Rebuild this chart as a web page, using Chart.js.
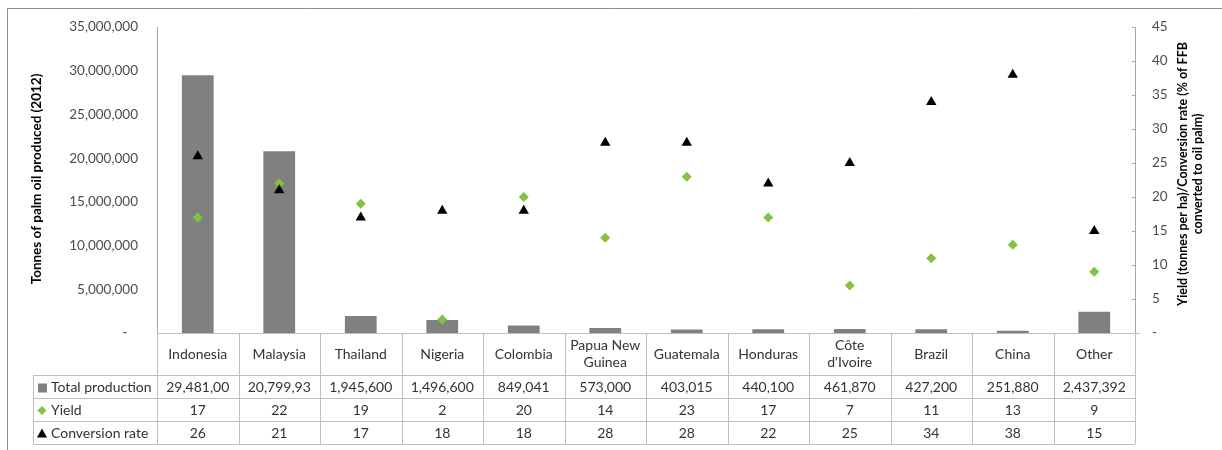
<!DOCTYPE html>
<html lang="en">
<head>
<meta charset="UTF-8">
<title>Palm oil production, yield and conversion rate (2012)</title>
<script src="https://cdn.jsdelivr.net/npm/chart.js"></script>
<style>
  html, body { margin: 0; padding: 0; background: #fff; }
  .wrap { position: relative; width: 1222px; height: 450px; }
</style>
</head>
<body>
<div class="wrap"><canvas id="palmChart"></canvas></div>
<script>
  // Country data, 2012
  const countries = ['Indonesia', 'Malaysia', 'Thailand', 'Nigeria', 'Colombia', ['Papua New', 'Guinea'],
    'Guatemala', 'Honduras', ['Côte', "d'Ivoire"], 'Brazil', 'China', 'Other'];
  const production = [29481000, 20799930, 1945600, 1496600, 849041, 573000, 403015, 440100, 461870, 427200, 251880, 2437392];
  const yieldVals = [17, 22, 19, 2, 20, 14, 23, 17, 7, 11, 13, 9];
  const conversion = [26, 21, 17, 18, 18, 28, 28, 22, 25, 34, 38, 15];

  const seriesNames = ['Total production', 'Yield', 'Conversion rate'];
  const leftTitle = 'Tonnes of palm oil produced (2012)';
  const rightTitle = ['Yield (tonnes per ha)/Conversion rate (% of FFB', 'converted to oil palm)'];

  const BAR = '#808080';
  const GREEN = '#80c341';
  const TRI = '#000000';
  const FONT = 'Lato, "Noto Sans", sans-serif';
  const TEXT = '#333333';

  const fmt = v => v === 0 ? '-   ' : v.toLocaleString('en-US');
  // the table cells are narrow, long numbers get cut off
  const cellText = v => { const s = v.toLocaleString('en-US'); return s.length > 9 ? s.slice(0, 9) : s; };

  // draws the frame, axis titles and the data table under the plot
  const tablePlugin = {
    id: 'dataTable',
    afterDraw(chart) {
      const { ctx, chartArea: a, scales } = chart;
      const x = scales.x, yR = scales.y1;
      const colW = a.width / countries.length;
      const rowTop = a.bottom, catBottom = a.bottom + 42, rowH = 23;
      const tableLeft = 33;
      const rows = [production, yieldVals, conversion];

      ctx.save();
      // outer frame (only left and top are in view)
      ctx.strokeStyle = '#8c8c8c';
      ctx.lineWidth = 1;
      ctx.beginPath();
      ctx.moveTo(7.5, 450); ctx.lineTo(7.5, 8.5); ctx.lineTo(1222, 8.5);
      ctx.stroke();

      // small tick marks on the right axis
      ctx.strokeStyle = '#a6a6a6';
      ctx.beginPath();
      yR.ticks.forEach(t => {
        const py = Math.round(yR.getPixelForValue(t.value)) + 0.5;
        ctx.moveTo(a.right - 3, py); ctx.lineTo(a.right, py);
      });
      ctx.stroke();

      // table grid
      ctx.strokeStyle = '#bfbfbf';
      ctx.beginPath();
      ctx.moveTo(a.left, rowTop + 0.5); ctx.lineTo(a.right + 5, rowTop + 0.5);
      for (let r = 0; r <= 3; r++) {
        const yy = catBottom + r * rowH + 0.5;
        ctx.moveTo(tableLeft, yy); ctx.lineTo(a.right, yy);
      }
      ctx.moveTo(tableLeft + 0.5, catBottom); ctx.lineTo(tableLeft + 0.5, catBottom + 3 * rowH);
      for (let i = 0; i <= countries.length; i++) {
        const xx = Math.round(a.left + i * colW) + 0.5;
        ctx.moveTo(xx, rowTop); ctx.lineTo(xx, catBottom + 3 * rowH);
      }
      ctx.stroke();

      // category names
      ctx.fillStyle = TEXT;
      ctx.font = '14px ' + FONT;
      ctx.textAlign = 'center';
      ctx.textBaseline = 'middle';
      countries.forEach((c, i) => {
        const cx = x.getPixelForValue(i);
        const lines = Array.isArray(c) ? c : [c];
        const mid = (rowTop + catBottom) / 2;
        lines.forEach((ln, k) => ctx.fillText(ln, cx, mid + (k - (lines.length - 1) / 2) * 17));
      });

      // values
      rows.forEach((vals, r) => {
        const cy = catBottom + r * rowH + rowH / 2 + 1;
        vals.forEach((v, i) => ctx.fillText(cellText(v), x.getPixelForValue(i), cy));
      });

      // legend keys and series names
      ctx.textAlign = 'left';
      seriesNames.forEach((name, r) => {
        const cy = catBottom + r * rowH + rowH / 2 + 1;
        const kx = tableLeft + 9;
        if (r === 0) {
          ctx.fillStyle = BAR;
          ctx.fillRect(kx - 4, cy - 4, 9, 9);
        } else if (r === 1) {
          ctx.fillStyle = GREEN;
          ctx.beginPath();
          ctx.moveTo(kx, cy - 4.5); ctx.lineTo(kx + 4.5, cy); ctx.lineTo(kx, cy + 4.5); ctx.lineTo(kx - 4.5, cy);
          ctx.closePath(); ctx.fill();
        } else {
          ctx.fillStyle = TRI;
          ctx.beginPath();
          ctx.moveTo(kx, cy - 5); ctx.lineTo(kx + 5, cy + 4); ctx.lineTo(kx - 5, cy + 4);
          ctx.closePath(); ctx.fill();
        }
        ctx.fillStyle = TEXT;
        ctx.fillText(name, tableLeft + 18, cy);
      });

      // axis titles
      ctx.fillStyle = '#000';
      ctx.font = 'bold 13.5px ' + FONT;
      ctx.textAlign = 'center';
      ctx.save();
      ctx.translate(37, 179);
      ctx.rotate(-Math.PI / 2);
      ctx.fillText(leftTitle, 0, 0);
      ctx.restore();

      ctx.save();
      ctx.translate(1190, 174);
      ctx.rotate(-Math.PI / 2);
      ctx.font = 'bold 12.5px ' + FONT;
      rightTitle.forEach((ln, k) => ctx.fillText(ln, 0, (k - 0.5) * 15));
      ctx.restore();
      ctx.restore();
    }
  };

  new Chart(document.getElementById('palmChart'), {
    type: 'bar',
    data: {
      labels: countries,
      datasets: [
        {
          label: seriesNames[0],
          data: production,
          backgroundColor: BAR,
          barPercentage: 0.39,
          categoryPercentage: 1,
          yAxisID: 'y',
          order: 2
        },
        {
          type: 'line',
          label: seriesNames[1],
          data: yieldVals,
          showLine: false,
          pointStyle: 'rectRot',
          pointRadius: 5,
          pointBackgroundColor: GREEN,
          pointBorderWidth: 0,
          yAxisID: 'y1',
          order: 1
        },
        {
          type: 'line',
          label: seriesNames[2],
          data: conversion,
          showLine: false,
          pointStyle: 'triangle',
          pointRadius: 6,
          pointBackgroundColor: TRI,
          pointBorderWidth: 0,
          yAxisID: 'y1',
          order: 0
        }
      ]
    },
    options: {
      responsive: true,
      maintainAspectRatio: false,
      animation: false,
      layout: { padding: { left: 8, top: 25, right: 0, bottom: 117 } },
      plugins: {
        legend: { display: false },
        tooltip: { enabled: false }
      },
      scales: {
        x: { display: false, offset: true },
        y: {
          position: 'left',
          min: 0,
          max: 35000000,
          afterFit: s => { s.width = 149; },
          border: { display: true, color: '#a6a6a6' },
          grid: { display: false, drawTicks: false },
          ticks: {
            stepSize: 5000000,
            padding: 19,
            color: '#4d4d4d',
            font: { family: FONT, size: 13.5 },
            callback: v => fmt(v)
          }
        },
        y1: {
          position: 'right',
          min: 0,
          max: 45,
          afterFit: s => { s.width = 87; },
          border: { display: true, color: '#a6a6a6' },
          grid: { display: false, drawTicks: false },
          ticks: {
            stepSize: 5,
            padding: 17,
            color: '#4d4d4d',
            font: { family: FONT, size: 13.5 },
            callback: v => v === 0 ? '-' : v
          }
        }
      }
    },
    plugins: [tablePlugin]
  });
</script>
</body>
</html>
